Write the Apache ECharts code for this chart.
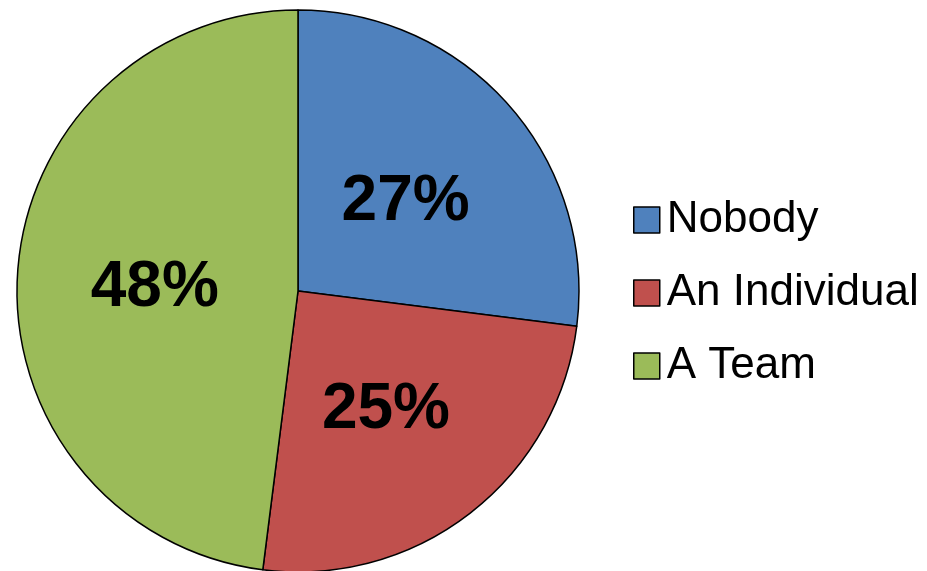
<!DOCTYPE html>
<html><head><meta charset="utf-8">
<script src="https://cdn.jsdelivr.net/npm/echarts@6/dist/echarts.min.js"></script>
<style>html,body{margin:0;padding:0;background:#fff}#c{width:927px;height:571px}</style>
</head><body><div id="c"></div>
<script>
const categories = ["Nobody", "An Individual", "A Team"];
const values = [27, 25, 48];
const colors = ["#4F81BD", "#C0504D", "#9BBB59"];

const chart = echarts.init(document.getElementById('c'));
chart.setOption({
  animation: false,
  legend: {
    orient: 'vertical',
    left: 628,
    top: 191,
    itemWidth: 26,
    itemHeight: 26,
    itemGap: 25,
    icon: 'rect',
    data: categories,
    itemStyle: { borderColor: '#000', borderWidth: 1.5 },
    textStyle: { fontFamily: 'Liberation Sans', fontSize: 44, color: '#000', padding: [0, 0, 0, 2], lineHeight: 48 }
  },
  series: [{
    type: 'pie',
    center: [298, 291],
    radius: [0, 281],
    startAngle: 90,
    clockwise: true,
    data: categories.map((n, i) => ({ name: n, value: values[i], itemStyle: { color: colors[i] } })),
    itemStyle: { borderColor: '#000', borderWidth: 1.5 },
    label: {
      position: 'inside',
      formatter: p => p.value + '%',
      fontFamily: 'Liberation Sans',
      fontWeight: 'bold',
      fontSize: 64,
      color: '#000',
      offset: [0, 6]
    },
    labelLine: { show: false },
    emphasis: { disabled: true }
  }]
});
</script></body></html>
